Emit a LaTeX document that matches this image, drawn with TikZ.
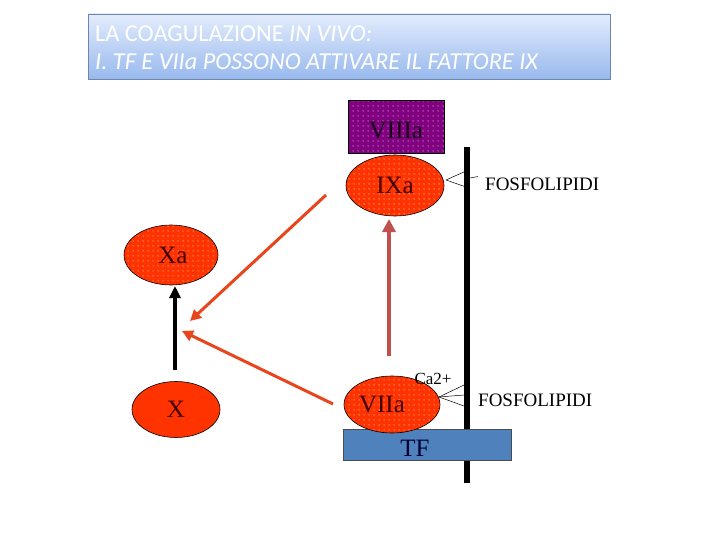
\documentclass[tikz,border=0pt]{standalone}
\usepackage{fontspec}
\setmainfont{Liberation Serif}
\newfontfamily\titlefont{Carlito}
\usetikzlibrary{shapes.geometric,patterns,patterns.meta,arrows.meta}
\definecolor{redfill}{HTML}{FF3300}
\definecolor{purplefill}{HTML}{800080}
\definecolor{tfblue}{HTML}{4F81BD}
\definecolor{arrowred}{HTML}{E8451C}
\definecolor{arrowbrown}{HTML}{C0504D}
\definecolor{titletop}{HTML}{E3ECFC}
\definecolor{titlebot}{HTML}{98B9EE}
\definecolor{titleborder}{HTML}{6F86A8}
\tikzdeclarepattern{
  name=sparsedots,
  type=uncolored,
  bottom left={(0pt,0pt)},
  top right={(4.5pt,4.5pt)},
  tile size={(4.5pt,4.5pt)},
  code={\pgfpathcircle{\pgfpoint{2.25pt}{2.25pt}}{0.6pt}\pgfusepath{fill}}
}
\tikzset{
  dotted fill/.style={preaction={fill=#1}, pattern=sparsedots, pattern color=white!90!#1},
  factor/.style={ellipse, draw=black, line width=0.6pt, dotted fill=redfill, inner sep=0pt, font=\fontsize{25}{25}\selectfont, text=black!75!red},
  plainfactor/.style={ellipse, draw=black, line width=0.6pt, fill=redfill, inner sep=0pt, font=\fontsize{25}{25}\selectfont, text=black!75!red},
  lbl/.style={font=\fontsize{19}{19}\selectfont, inner sep=0pt, anchor=west},
  fan/.style={draw=black, line width=0.5pt},
  redarrow/.style={draw=arrowred, line width=3pt, -{Triangle[length=11pt,width=11pt]}},
}
\begin{document}
\begin{tikzpicture}[x=1pt,y=-1pt]
\useasboundingbox (0,0) rectangle (720,540);
% title
\shade[top color=titletop, bottom color=titlebot] (88,14) rectangle (610,79);
\draw[titleborder, line width=0.8pt] (88,14) rectangle (610,79);
\node[anchor=west, inner sep=0pt, text=white, font=\titlefont\fontsize{24.3}{24.3}\selectfont] (t1) at (95,34) {LA COAGULAZIONE \textit{IN VIVO:}};
\node[anchor=west, inner sep=0pt, text=white, font=\titlefont\itshape\fontsize{24.3}{24.3}\selectfont] (t2) at (95,62) {I. TF E VIIa POSSONO ATTIVARE IL FATTORE IX};
% membrane
\draw[black, line width=6pt] (467,147) -- (467,483);
% VIIIa
\node[rectangle, draw=black, line width=0.6pt, dotted fill=purplefill, minimum width=96pt, minimum height=53pt, inner sep=0pt, font=\fontsize{25}{25}\selectfont, text=black!80!purplefill, text depth=0pt] (viiia) at (396,126.5) {\raisebox{-8pt}{VIIIa}};
% IXa
\node[factor, minimum width=98pt, minimum height=61pt] (ixa) at (395,185.5) {IXa};
% Xa, X
\node[factor, minimum width=94pt, minimum height=60pt] (xa) at (171,255) {\hspace*{4pt}Xa};
\node[plainfactor, minimum width=88pt, minimum height=56pt] (x) at (176,409.5) {X};
% TF
\node[rectangle, draw=black!70, line width=0.8pt, fill=tfblue, minimum width=168pt, minimum height=31pt, inner sep=0pt, font=\fontsize{25}{25}\selectfont, text=black!80!blue, text depth=0pt] (tf) at (427,444.5) {\hspace*{-24pt}\raisebox{-7pt}{TF}};
% VIIa
\node[factor, minimum width=96pt, minimum height=57pt] (viia) at (392,404.5) {\hspace*{-20pt}\raisebox{-4pt}{VIIa}};
% labels
\node[lbl] (fos1) at (485,184) {FOSFOLIPIDI};
\node[lbl] (fos2) at (478,400) {FOSFOLIPIDI};
\node[font=\fontsize{17}{17}\selectfont, inner sep=0pt] (ca) at (433,379) {Ca2+};
% fans
\coordinate (f1o) at (446,180);
\coordinate (f1a) at (466,171);
\coordinate (f1b) at (466,187);
\draw[fan] (f1o) -- (f1a);
\draw[fan] (f1o) -- (f1b);
\coordinate (d1a) at (470,178);
\coordinate (d1b) at (478,176.5);
\draw[fan] (d1a) -- (d1b);
\coordinate (f2o) at (439,397);
\coordinate (f2a) at (464,385);
\coordinate (f2b) at (464,395);
\coordinate (f2c) at (464,406);
\draw[fan] (f2o) -- (f2a);
\draw[fan] (f2o) -- (f2b);
\draw[fan] (f2o) -- (f2c);
% arrows
\coordinate (a1s) at (326,195);
\coordinate (a1e) at (190,321);
\coordinate (a2s) at (333,404);
\coordinate (a2e) at (182,331);
\draw[redarrow] (a1s) -- (a1e);
\draw[redarrow] (a2s) -- (a2e);
\coordinate (a3s) at (389,356);
\coordinate (a3e) at (389,219);
\draw[arrowbrown, line width=4pt, -{Triangle[length=13pt,width=13pt]}] (a3s) -- (a3e);
\coordinate (a4s) at (175,370);
\coordinate (a4e) at (175,286);
\draw[black, line width=4pt, -{Triangle[length=12pt,width=11pt]}] (a4s) -- (a4e);
\end{tikzpicture}
\end{document}
